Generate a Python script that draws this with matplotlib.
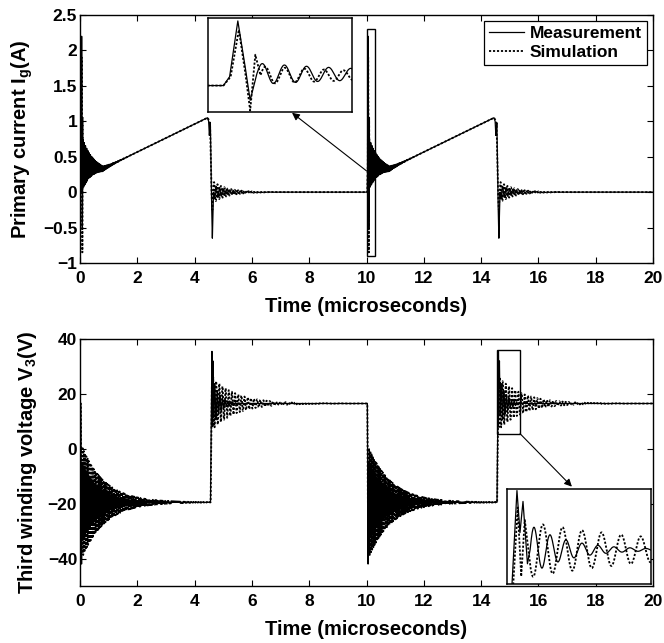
import numpy as np
import matplotlib
matplotlib.use("Agg")
import matplotlib.pyplot as plt
from matplotlib.patches import Rectangle

plt.rcParams.update({
    "font.family": ["Liberation Sans", "DejaVu Sans"],
    "font.weight": "bold",
    "axes.labelweight": "bold",
    "mathtext.fontset": "custom",
    "mathtext.rm": "Liberation Sans:bold",
    "mathtext.it": "Liberation Sans:bold",
    "mathtext.bf": "Liberation Sans:bold",
    "axes.linewidth": 1.0,
})

# ---------------- timing ----------------
period_us = 10.0
t_end_us = 20.0
n_samples = 20001

# ---------------- primary current I_g (A) ----------------
# edge knots inside one switching period
ig_meas_t = [0.000, 0.030, 0.042, 0.058, 0.070, 0.082, 0.095, 0.800,
             4.450, 4.490, 4.515, 4.550, 4.585, 4.620, 4.660, 10.000]
ig_meas_v = [0.00, 0.00, 0.30, 2.20, 0.90, -0.50, 0.40, 0.33,
             1.05, 1.00, 0.80, 0.98, 0.00, -0.65, 0.00, 0.00]
ig_sim_t = [0.000, 0.030, 0.044, 0.060, 0.072, 0.082, 0.092, 0.102, 0.800,
            4.450, 4.500, 4.540, 4.590, 4.620, 4.650, 10.000]
ig_sim_v = [0.00, 0.00, 0.30, 1.90, 0.50, -0.85, 1.05, 0.35, 0.33,
            1.05, 1.02, 0.95, 0.00, -0.25, 0.00, 0.00]

# ringing after each edge: start (us), amplitude, period (us), decay (us)
ig_meas_ring_start = [0.095, 4.660]
ig_meas_ring_amp = [0.36, -0.10]
ig_meas_ring_period = [0.043, 0.12]
ig_meas_ring_decay = [0.32, 0.50]
ig_sim_ring_start = [0.102, 4.650]
ig_sim_ring_amp = [0.30, 0.15]
ig_sim_ring_period = [0.038, 0.12]
ig_sim_ring_decay = [0.30, 0.50]

# ---------------- third winding voltage V_3 (V) ----------------
v3_meas_t = [0.000, 0.030, 0.055, 0.075, 0.090, 4.555,
             4.606, 4.623, 4.640, 4.665, 4.680, 10.000]
v3_meas_v = [16.5, 16.5, -42.0, -5.0, -19.5, -19.5,
             35.5, 22.0, 32.0, 12.0, 16.5, 16.5]
v3_sim_t = [0.000, 0.030, 0.058, 0.080, 4.560,
            4.610, 4.630, 4.650, 4.670, 10.000]
v3_sim_v = [16.5, 16.5, -38.0, -19.5, -19.5,
            30.0, 8.0, 26.0, 16.5, 16.5]

v3_meas_ring_start = [0.090, 4.680]
v3_meas_ring_amp = [-14.0, 8.0]
v3_meas_ring_period = [0.043, 0.09]
v3_meas_ring_decay = [0.60, 0.22]
v3_sim_ring_start = [0.080, 4.670]
v3_sim_ring_amp = [20.0, -9.0]
v3_sim_ring_period = [0.043, 0.11]
v3_sim_ring_decay = [0.80, 0.85]

# zoom windows (time range, value range)
ig_zoom_t = [10.00, 10.28]
ig_zoom_v = [-0.90, 2.30]
v3_zoom_t = [14.55, 15.36]
v3_zoom_v = [5.5, 36.0]

t = np.linspace(0.0, t_end_us, n_samples)


def trace(knot_t, knot_v, r_start, r_amp, r_period, r_decay):
    phase = np.mod(t, period_us)
    y = np.interp(phase, knot_t, knot_v)
    for s, a, p, d in zip(r_start, r_amp, r_period, r_decay):
        dt = phase - s
        ring = a * np.exp(-np.clip(dt, 0, None) / d) * np.sin(2 * np.pi * dt / p)
        y = y + np.where(dt >= 0, ring, 0.0)
    return y


ig_meas = trace(ig_meas_t, ig_meas_v, ig_meas_ring_start, ig_meas_ring_amp,
                ig_meas_ring_period, ig_meas_ring_decay)
ig_sim = trace(ig_sim_t, ig_sim_v, ig_sim_ring_start, ig_sim_ring_amp,
               ig_sim_ring_period, ig_sim_ring_decay)
v3_meas = trace(v3_meas_t, v3_meas_v, v3_meas_ring_start, v3_meas_ring_amp,
                v3_meas_ring_period, v3_meas_ring_decay)
v3_sim = trace(v3_sim_t, v3_sim_v, v3_sim_ring_start, v3_sim_ring_amp,
               v3_sim_ring_period, v3_sim_ring_decay)

W, H = 664, 643
fig = plt.figure(figsize=(W / 100, H / 100), dpi=100)


def px_axes(x0, y0, x1, y1):
    return fig.add_axes([x0 / W, 1 - y1 / H, (x1 - x0) / W, (y1 - y0) / H])


solid_kw = dict(color="k", lw=0.9, ls="-")
dot_kw = dict(color="k", lw=1.3, ls=(0, (1.2, 1.0)))
label_fs = 14.5
tick_fs = 12.5


def style_main(ax):
    ax.tick_params(direction="in", top=True, right=True, length=4,
                   width=0.8, labelsize=tick_fs)
    ax.tick_params(axis="x", pad=6)
    ax.tick_params(axis="y", pad=2)
    for lab in ax.get_xticklabels() + ax.get_yticklabels():
        lab.set_fontweight("bold")


# ---------- top panel ----------
ax1 = px_axes(80, 15, 653, 263)
l1, = ax1.plot(t, ig_meas, **solid_kw, label="Measurement")
l2, = ax1.plot(t, ig_sim, **dot_kw, label="Simulation")
ax1.set_xlim(0, 20)
ax1.set_ylim(-1, 2.5)
ax1.set_xticks(np.arange(0, 21, 2))
ax1.set_yticks(np.arange(-1, 2.51, 0.5))
ax1.set_yticklabels(["\u22121", "\u22120.5", "0", "0.5", "1", "1.5", "2", "2.5"])
ax1.set_xlabel("Time (microseconds)", fontsize=label_fs, labelpad=8)
ax1.set_ylabel(r"Primary current I$_\mathrm{g}$(A)", fontsize=label_fs, labelpad=6)
style_main(ax1)
ax1.add_patch(Rectangle((ig_zoom_t[0], ig_zoom_v[0]), ig_zoom_t[1] - ig_zoom_t[0],
                        ig_zoom_v[1] - ig_zoom_v[0], fill=False, ec="k", lw=1.0, zorder=5))
ax1.annotate("", xy=(7.40, 1.12), xytext=(ig_zoom_t[0], 0.30),
             arrowprops=dict(arrowstyle="-|>", color="k", lw=0.8,
                             mutation_scale=11, shrinkA=0, shrinkB=0))
leg = ax1.legend(handles=[l1, l2], loc="upper right",
                 bbox_to_anchor=(0.9895, 0.9758), borderaxespad=0,
                 fontsize=12.5, frameon=True, fancybox=False, edgecolor="k",
                 framealpha=1, handlelength=2.0, handletextpad=0.35,
                 labelspacing=0.2, borderpad=0.3)
leg.get_frame().set_linewidth(0.9)
for txt in leg.get_texts():
    txt.set_fontweight("bold")

ins1 = px_axes(208, 18, 352, 112)
ins1.plot(t, ig_meas, **solid_kw)
ins1.plot(t, ig_sim, **dot_kw)
ins1.set_xlim(*ig_zoom_t)
ins1.set_ylim(*ig_zoom_v)
ins1.set_xticks([])
ins1.set_yticks([])
for sp in ins1.spines.values():
    sp.set_linewidth(1.1)

# ---------- bottom panel ----------
ax2 = px_axes(80, 339, 653, 586)
ax2.plot(t, v3_meas, **solid_kw)
ax2.plot(t, v3_sim, **dot_kw)
ax2.set_xlim(0, 20)
ax2.set_ylim(-50, 40)
ax2.set_xticks(np.arange(0, 21, 2))
ax2.set_yticks([-40, -20, 0, 20, 40])
ax2.set_yticklabels(["\u221240", "\u221220", "0", "20", "40"])
ax2.set_xlabel("Time (microseconds)", fontsize=label_fs, labelpad=8)
ax2.set_ylabel(r"Third winding voltage V$_\mathrm{3}$(V)", fontsize=label_fs, labelpad=6)
style_main(ax2)
ax2.add_patch(Rectangle((v3_zoom_t[0], v3_zoom_v[0]), v3_zoom_t[1] - v3_zoom_t[0],
                        v3_zoom_v[1] - v3_zoom_v[0], fill=False, ec="k", lw=1.0, zorder=5))
ax2.annotate("", xy=(17.17, -13.8), xytext=(v3_zoom_t[1], v3_zoom_v[0]),
             arrowprops=dict(arrowstyle="-|>", color="k", lw=0.8,
                             mutation_scale=11, shrinkA=0, shrinkB=0))

ins2 = px_axes(507, 489, 651, 584)
ins2.plot(t, v3_meas, **solid_kw)
ins2.plot(t, v3_sim, **dot_kw)
ins2.set_xlim(*v3_zoom_t)
ins2.set_ylim(*v3_zoom_v)
ins2.set_xticks([])
ins2.set_yticks([])
for sp in ins2.spines.values():
    sp.set_linewidth(1.1)

fig.savefig("out.png", dpi=100)
